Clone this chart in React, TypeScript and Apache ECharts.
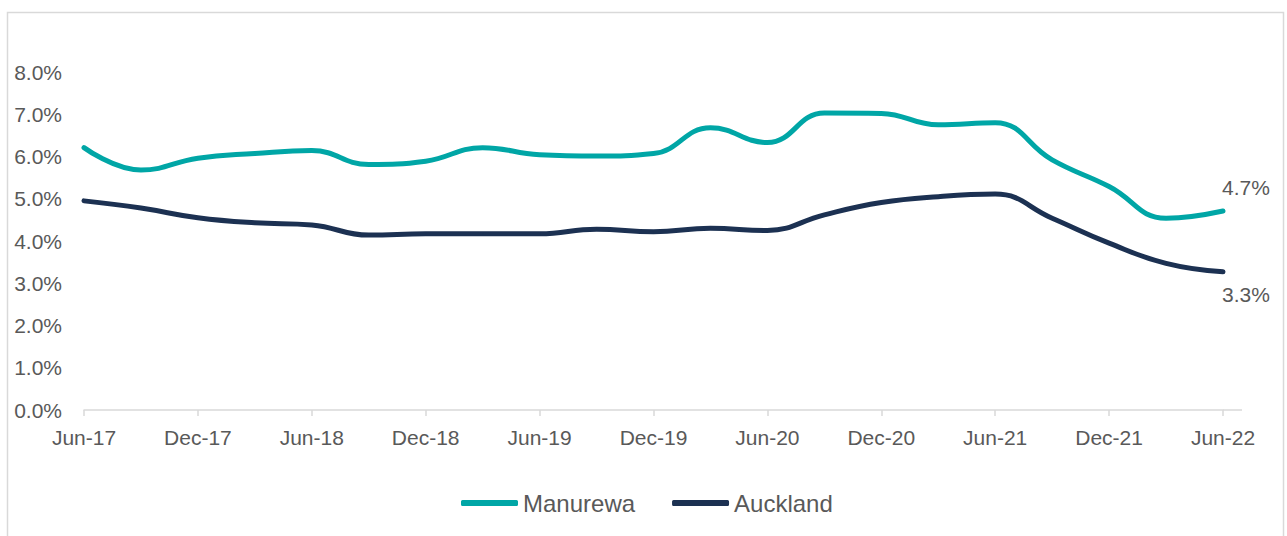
import React, { useEffect, useRef } from "react";
import * as echarts from "echarts";

const categories = [
  "Jun-17", "Sep-17", "Dec-17", "Mar-18", "Jun-18", "Sep-18", "Dec-18",
  "Mar-19", "Jun-19", "Sep-19", "Dec-19", "Mar-20", "Jun-20", "Sep-20",
  "Dec-20", "Mar-21", "Jun-21", "Sep-21", "Dec-21", "Mar-22", "Jun-22",
];

const manurewa = [
  6.21, 5.68, 5.96, 6.07, 6.14, 5.81, 5.89, 6.21, 6.04, 6.01, 6.07,
  6.68, 6.33, 7.03, 7.02, 6.75, 6.8, 5.92, 5.29, 4.54, 4.71,
];

const auckland = [
  4.95, 4.78, 4.55, 4.43, 4.38, 4.14, 4.17, 4.17, 4.17, 4.28, 4.22,
  4.3, 4.25, 4.62, 4.91, 5.05, 5.11, 4.54, 3.95, 3.47, 3.27,
];

const TEAL = "#00A6A6";
const NAVY = "#1C3152";
const TEXT = "#595959";
const FONT = "'Liberation Sans', Arial, sans-serif";

function withEndLabel(values: number[], offset: number[], position: string) {
  return values.map((v, i) =>
    i === values.length - 1
      ? {
          value: v,
          label: {
            show: true,
            position,
            offset,
            formatter: (p: any) => Number(p.value).toFixed(1) + "%",
            color: TEXT,
            fontSize: 21,
            fontFamily: FONT,
          },
        }
      : v
  );
}

export default function App() {
  const ref = useRef<HTMLDivElement>(null);

  useEffect(() => {
    if (!ref.current) return;
    const chart = echarts.init(ref.current, undefined, { renderer: "svg" });
    chart.setOption({
      animation: false,
      backgroundColor: "#ffffff",
      grid: { left: 84, right: 64, top: 72, bottom: 126, containLabel: false },
      legend: {
        left: 456,
        top: 486,
        itemWidth: 57,
        itemHeight: 6,
        itemGap: 37,
        icon: "roundRect",
        textStyle: { color: TEXT, fontSize: 24, fontFamily: FONT },
        data: ["Manurewa", "Auckland"],
      },
      xAxis: {
        type: "category",
        data: categories,
        boundaryGap: false,
        axisLine: { show: true, lineStyle: { color: "#D9D9D9", width: 1.5 } },
        axisTick: { show: true, interval: 1, length: 6, lineStyle: { color: "#D9D9D9", width: 1.5 } },
        axisLabel: {
          interval: 1,
          margin: 17,
          color: TEXT,
          fontSize: 21,
          fontFamily: FONT,
        },
        splitLine: { show: false },
      },
      yAxis: {
        type: "value",
        min: 0,
        max: 8,
        interval: 1,
        axisLine: { show: false },
        axisTick: { show: false },
        splitLine: { show: false },
        axisLabel: {
          margin: 22,
          color: TEXT,
          fontSize: 21,
          fontFamily: FONT,
          formatter: (v: number) => v.toFixed(1) + "%",
        },
      },
      series: [
        {
          name: "Manurewa",
          type: "line",
          smooth: 0.45,
          symbol: "circle",
          symbolSize: 1,
          showSymbol: true,
          color: TEAL,
          itemStyle: { color: TEAL },
          lineStyle: { color: TEAL, width: 5, cap: "round" },
          data: withEndLabel(manurewa, [23, -8], "top"),
        },
        {
          name: "Auckland",
          type: "line",
          smooth: 0.45,
          symbol: "circle",
          symbolSize: 1,
          showSymbol: true,
          color: NAVY,
          itemStyle: { color: NAVY },
          lineStyle: { color: NAVY, width: 5, cap: "round" },
          data: withEndLabel(auckland, [23, 7], "bottom"),
        },
      ],
      graphic: [
        {
          type: "rect",
          silent: true,
          shape: { x: 7.5, y: 12.5, width: 1276, height: 540 },
          style: { fill: "none", stroke: "#D9D9D9", lineWidth: 1.5 },
        },
        {
          type: "line",
          silent: true,
          shape: { x1: 1223, y1: 410, x2: 1242, y2: 410 },
          style: { stroke: "#D9D9D9", lineWidth: 1.5 },
        },
      ],
    });
    return () => chart.dispose();
  }, []);

  return (
    <div
      ref={ref}
      style={{ position: "fixed", left: 0, top: 0, width: 1287, height: 536 }}
    />
  );
}
